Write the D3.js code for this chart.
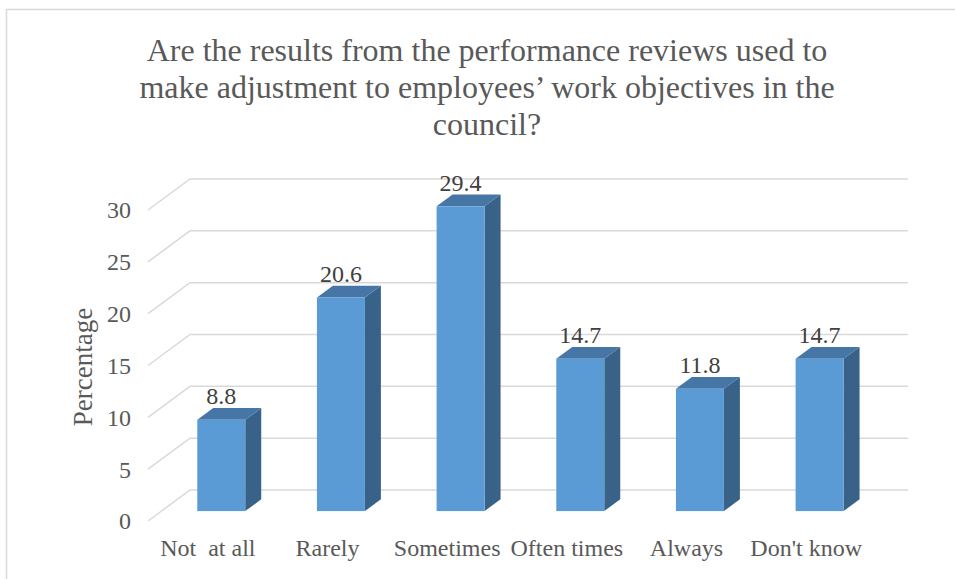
<!DOCTYPE html>
<html>
<head>
<meta charset="utf-8">
<script src="https://cdn.jsdelivr.net/npm/d3@7/dist/d3.min.js"></script>
<style>
  html, body { margin: 0; padding: 0; background: #fff; }
</style>
</head>
<body>
<svg id="chart" width="955" height="579"></svg>
<script>
// Survey responses (% of respondents)
const categories = ["Not  at all", "Rarely", "Sometimes", "Often times", "Always", "Don't know"];
const values = [8.8, 20.6, 29.4, 14.7, 11.8, 14.7];
const yTicks = [0, 5, 10, 15, 20, 25, 30];
const titleLines = [
  "Are the results from the performance reviews used to",
  "make adjustment to employees\u2019 work objectives in the",
  "council?"
];
const yAxisTitle = "Percentage";
const serif = "Tinos, 'Liberation Serif', serif";

const svg = d3.select("#chart");

// Outer chart border
svg.append("rect")
  .attr("x", 6.5).attr("y", 9.5)
  .attr("width", 1000).attr("height", 700)
  .attr("fill", "#fff")
  .attr("stroke", "#d9d9d9").attr("stroke-width", 1.5);

// 3D layout: front plane + depth vector toward the back wall
const depth = { dx: 42, dy: -31 };
const x = d3.scaleBand().domain(categories).range([148, 866]).paddingInner(0).paddingOuter(0);
const y = d3.scaleLinear().domain([0, 30]).range([521, 210]);
const barFront = 0.32, barBack = 0.70, barWidth = 48;

// Gridlines: short diagonal on the floor/side, then the line across the back wall
const grid = svg.append("g");
yTicks.forEach(t => {
  const yf = y(t);
  grid.append("polyline")
    .attr("points", [
      [x.range()[0], yf],
      [x.range()[0] + depth.dx, yf + depth.dy],
      [x.range()[1] + depth.dx, yf + depth.dy]
    ].map(p => p.join(",")).join(" "))
    .attr("fill", "none")
    .attr("stroke", "#d9d9d9")
    .attr("stroke-width", 1.5);
});

// Y axis tick labels
svg.append("g").selectAll("text").data(yTicks).join("text")
  .attr("x", 131)
  .attr("y", d => y(d))
  .attr("dy", "0.35em")
  .attr("text-anchor", "end")
  .attr("font-family", serif)
  .attr("font-size", 24)
  .attr("fill", "#595959")
  .text(d => d);

// Bars drawn as front, top and side faces
const bars = svg.append("g");
categories.forEach((c, i) => {
  const v = values[i];
  const cx = x(c) + x.bandwidth() / 2 + depth.dx * barFront;
  const oy = depth.dy * barFront;
  const ddx = depth.dx * (barBack - barFront), ddy = depth.dy * (barBack - barFront);
  const x0 = cx - barWidth / 2, x1 = cx + barWidth / 2;
  const yTop = y(v) + oy, yBot = y(0) + oy;

  // side face
  bars.append("polygon")
    .attr("points", [[x1, yTop], [x1 + ddx, yTop + ddy], [x1 + ddx, yBot + ddy], [x1, yBot]].map(p => p.join(",")).join(" "))
    .attr("fill", "#386287");
  // top face
  bars.append("polygon")
    .attr("points", [[x0, yTop], [x0 + ddx, yTop + ddy], [x1 + ddx, yTop + ddy], [x1, yTop]].map(p => p.join(",")).join(" "))
    .attr("fill", "#4676a6");
  // front face
  bars.append("rect")
    .attr("x", x0).attr("y", yTop)
    .attr("width", barWidth).attr("height", yBot - yTop)
    .attr("fill", "#5b9bd5");

  // value label above the bar
  bars.append("text")
    .attr("x", cx)
    .attr("y", yTop + ddy - 4)
    .attr("text-anchor", "middle")
    .attr("font-family", serif)
    .attr("font-size", 24)
    .attr("fill", "#404040")
    .text(v.toFixed(1));
});

// Category labels
svg.append("g").selectAll("text").data(categories).join("text")
  .attr("x", d => x(d) + x.bandwidth() / 2)
  .attr("y", 556)
  .attr("text-anchor", "middle")
  .attr("font-family", serif)
  .attr("font-size", 24)
  .attr("fill", "#595959")
  .style("white-space", "pre")
  .text(d => d);

// Y axis title
svg.append("text")
  .attr("transform", "translate(92,367) rotate(-90)")
  .attr("text-anchor", "middle")
  .attr("font-family", serif)
  .attr("font-size", 27)
  .attr("fill", "#595959")
  .text(yAxisTitle);

// Chart title
svg.append("g").selectAll("text").data(titleLines).join("text")
  .attr("x", 487)
  .attr("y", (d, i) => 61 + i * 37)
  .attr("text-anchor", "middle")
  .attr("font-family", serif)
  .attr("font-size", 32)
  .attr("fill", "#595959")
  .text(d => d);
</script>
</body>
</html>
